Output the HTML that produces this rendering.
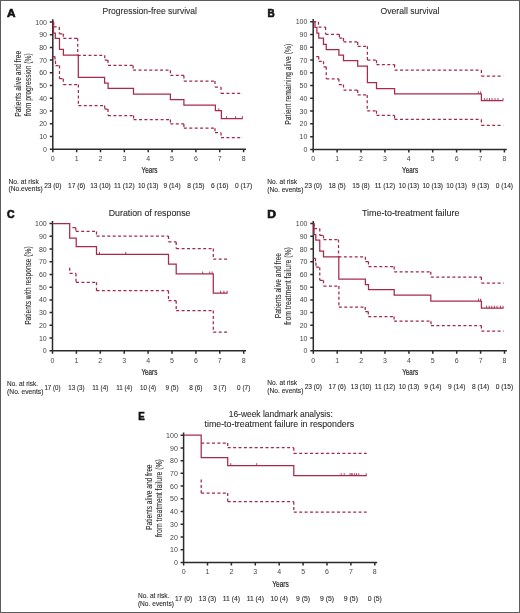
<!DOCTYPE html>
<html><head><meta charset="utf-8"><title>Kaplan-Meier figure</title>
<style>
html,body{margin:0;padding:0;background:#fff;}
body{width:520px;height:613px;overflow:hidden;}
svg{display:block;will-change:transform;}
text{font-family:"Liberation Sans",sans-serif;fill:#2b2b2b;stroke:#2b2b2b;stroke-width:0.1px;}
</style></head>
<body>
<svg width="520" height="613" viewBox="0 0 520 613">
<rect x="0" y="0" width="520" height="613" fill="#fff"/>
<text transform="translate(6.94,16.70) scale(1.041,1)" x="0" y="0" font-size="11.3" font-weight="bold" style="fill:#111;stroke:#111;stroke-width:0.65px">A</text>
<text transform="translate(267.44,16.60) scale(0.882,1)" x="0" y="0" font-size="11.3" font-weight="bold" style="fill:#111;stroke:#111;stroke-width:0.65px">B</text>
<text transform="translate(6.88,217.80) scale(0.926,1)" x="0" y="0" font-size="11.3" font-weight="bold" style="fill:#111;stroke:#111;stroke-width:0.65px">C</text>
<text transform="translate(267.36,217.80) scale(1.074,1)" x="0" y="0" font-size="11.3" font-weight="bold" style="fill:#111;stroke:#111;stroke-width:0.65px">D</text>
<text transform="translate(138.35,419.50) scale(0.860,1)" x="0" y="0" font-size="11.3" font-weight="bold" style="fill:#111;stroke:#111;stroke-width:0.65px">E</text>
<text x="102.50" y="14.40" font-size="9.8" textLength="94.50" lengthAdjust="spacingAndGlyphs">Progression-free survival</text>
<text x="380.60" y="14.30" font-size="9.8" textLength="58.80" lengthAdjust="spacingAndGlyphs">Overall survival</text>
<text x="108.70" y="215.60" font-size="9.8" textLength="81.80" lengthAdjust="spacingAndGlyphs">Duration of response</text>
<text x="361.90" y="215.80" font-size="9.8" textLength="97.60" lengthAdjust="spacingAndGlyphs">Time-to-treatment failure</text>
<text x="228.70" y="417.00" font-size="9.8" textLength="104.10" lengthAdjust="spacingAndGlyphs">16-week landmark analysis:</text>
<text x="204.50" y="426.60" font-size="9.8" textLength="149.60" lengthAdjust="spacingAndGlyphs">time-to-treatment failure in responders</text>
<text transform="translate(20.80,83.80) rotate(-90)" x="0" y="0" font-size="8.8" text-anchor="middle" textLength="66.00" lengthAdjust="spacingAndGlyphs">Patients alive and free</text>
<text transform="translate(31.20,84.60) rotate(-90)" x="0" y="0" font-size="8.8" text-anchor="middle" textLength="62.80" lengthAdjust="spacingAndGlyphs">from progression (%)</text>
<text transform="translate(291.40,84.30) rotate(-90)" x="0" y="0" font-size="8.8" text-anchor="middle" textLength="80.90" lengthAdjust="spacingAndGlyphs">Patient remaining alive (%)</text>
<text transform="translate(30.80,285.60) rotate(-90)" x="0" y="0" font-size="8.8" text-anchor="middle" textLength="78.40" lengthAdjust="spacingAndGlyphs">Patients with response (%)</text>
<text transform="translate(281.00,285.60) rotate(-90)" x="0" y="0" font-size="8.8" text-anchor="middle" textLength="65.20" lengthAdjust="spacingAndGlyphs">Patients alive and free</text>
<text transform="translate(291.10,286.00) rotate(-90)" x="0" y="0" font-size="8.8" text-anchor="middle" textLength="77.60" lengthAdjust="spacingAndGlyphs">from treatment failure (%)</text>
<text transform="translate(151.80,497.20) rotate(-90)" x="0" y="0" font-size="8.8" text-anchor="middle" textLength="65.40" lengthAdjust="spacingAndGlyphs">Patients alive and free</text>
<text transform="translate(162.00,498.10) rotate(-90)" x="0" y="0" font-size="8.8" text-anchor="middle" textLength="78.00" lengthAdjust="spacingAndGlyphs">from treatment failure (%)</text>
<path d="M52.80 19.30V149.30 M52.80 149.30H246.00 M49.80 149.30H52.80 M49.80 136.56H52.80 M49.80 123.82H52.80 M49.80 111.08H52.80 M49.80 98.34H52.80 M49.80 85.60H52.80 M49.80 72.86H52.80 M49.80 60.12H52.80 M49.80 47.38H52.80 M49.80 34.64H52.80 M49.80 21.90H52.80 M52.80 149.30V152.30 M76.65 149.30V152.30 M100.50 149.30V152.30 M124.35 149.30V152.30 M148.20 149.30V152.30 M172.05 149.30V152.30 M195.90 149.30V152.30 M219.75 149.30V152.30 M243.60 149.30V152.30" stroke="#2a2a2a" stroke-width="1.5" fill="none"/>
<text x="47.00" y="151.90" font-size="7.0" text-anchor="end" style="fill:#474747;stroke:#474747;stroke-width:0px">0</text>
<text x="47.00" y="139.16" font-size="7.0" text-anchor="end" style="fill:#474747;stroke:#474747;stroke-width:0px">10</text>
<text x="47.00" y="126.42" font-size="7.0" text-anchor="end" style="fill:#474747;stroke:#474747;stroke-width:0px">20</text>
<text x="47.00" y="113.68" font-size="7.0" text-anchor="end" style="fill:#474747;stroke:#474747;stroke-width:0px">30</text>
<text x="47.00" y="100.94" font-size="7.0" text-anchor="end" style="fill:#474747;stroke:#474747;stroke-width:0px">40</text>
<text x="47.00" y="88.20" font-size="7.0" text-anchor="end" style="fill:#474747;stroke:#474747;stroke-width:0px">50</text>
<text x="47.00" y="75.46" font-size="7.0" text-anchor="end" style="fill:#474747;stroke:#474747;stroke-width:0px">60</text>
<text x="47.00" y="62.72" font-size="7.0" text-anchor="end" style="fill:#474747;stroke:#474747;stroke-width:0px">70</text>
<text x="47.00" y="49.98" font-size="7.0" text-anchor="end" style="fill:#474747;stroke:#474747;stroke-width:0px">80</text>
<text x="47.00" y="37.24" font-size="7.0" text-anchor="end" style="fill:#474747;stroke:#474747;stroke-width:0px">90</text>
<text x="47.00" y="24.50" font-size="7.0" text-anchor="end" style="fill:#474747;stroke:#474747;stroke-width:0px">100</text>
<text x="52.80" y="161.30" font-size="7.0" text-anchor="middle" style="fill:#474747;stroke:#474747;stroke-width:0px">0</text>
<text x="76.65" y="161.30" font-size="7.0" text-anchor="middle" style="fill:#474747;stroke:#474747;stroke-width:0px">1</text>
<text x="100.50" y="161.30" font-size="7.0" text-anchor="middle" style="fill:#474747;stroke:#474747;stroke-width:0px">2</text>
<text x="124.35" y="161.30" font-size="7.0" text-anchor="middle" style="fill:#474747;stroke:#474747;stroke-width:0px">3</text>
<text x="148.20" y="161.30" font-size="7.0" text-anchor="middle" style="fill:#474747;stroke:#474747;stroke-width:0px">4</text>
<text x="172.05" y="161.30" font-size="7.0" text-anchor="middle" style="fill:#474747;stroke:#474747;stroke-width:0px">5</text>
<text x="195.90" y="161.30" font-size="7.0" text-anchor="middle" style="fill:#474747;stroke:#474747;stroke-width:0px">6</text>
<text x="219.75" y="161.30" font-size="7.0" text-anchor="middle" style="fill:#474747;stroke:#474747;stroke-width:0px">7</text>
<text x="243.60" y="161.30" font-size="7.0" text-anchor="middle" style="fill:#474747;stroke:#474747;stroke-width:0px">8</text>
<path d="M313.20 19.10V149.40 M313.20 149.40H506.80 M310.20 149.40H313.20 M310.20 136.63H313.20 M310.20 123.86H313.20 M310.20 111.09H313.20 M310.20 98.32H313.20 M310.20 85.55H313.20 M310.20 72.78H313.20 M310.20 60.01H313.20 M310.20 47.24H313.20 M310.20 34.47H313.20 M310.20 21.70H313.20 M313.20 149.40V152.40 M337.10 149.40V152.40 M361.00 149.40V152.40 M384.90 149.40V152.40 M408.80 149.40V152.40 M432.70 149.40V152.40 M456.60 149.40V152.40 M480.50 149.40V152.40 M504.40 149.40V152.40" stroke="#2a2a2a" stroke-width="1.5" fill="none"/>
<text x="307.40" y="152.00" font-size="7.0" text-anchor="end" style="fill:#474747;stroke:#474747;stroke-width:0px">0</text>
<text x="307.40" y="139.23" font-size="7.0" text-anchor="end" style="fill:#474747;stroke:#474747;stroke-width:0px">10</text>
<text x="307.40" y="126.46" font-size="7.0" text-anchor="end" style="fill:#474747;stroke:#474747;stroke-width:0px">20</text>
<text x="307.40" y="113.69" font-size="7.0" text-anchor="end" style="fill:#474747;stroke:#474747;stroke-width:0px">30</text>
<text x="307.40" y="100.92" font-size="7.0" text-anchor="end" style="fill:#474747;stroke:#474747;stroke-width:0px">40</text>
<text x="307.40" y="88.15" font-size="7.0" text-anchor="end" style="fill:#474747;stroke:#474747;stroke-width:0px">50</text>
<text x="307.40" y="75.38" font-size="7.0" text-anchor="end" style="fill:#474747;stroke:#474747;stroke-width:0px">60</text>
<text x="307.40" y="62.61" font-size="7.0" text-anchor="end" style="fill:#474747;stroke:#474747;stroke-width:0px">70</text>
<text x="307.40" y="49.84" font-size="7.0" text-anchor="end" style="fill:#474747;stroke:#474747;stroke-width:0px">80</text>
<text x="307.40" y="37.07" font-size="7.0" text-anchor="end" style="fill:#474747;stroke:#474747;stroke-width:0px">90</text>
<text x="307.40" y="24.30" font-size="7.0" text-anchor="end" style="fill:#474747;stroke:#474747;stroke-width:0px">100</text>
<text x="313.20" y="161.40" font-size="7.0" text-anchor="middle" style="fill:#474747;stroke:#474747;stroke-width:0px">0</text>
<text x="337.10" y="161.40" font-size="7.0" text-anchor="middle" style="fill:#474747;stroke:#474747;stroke-width:0px">1</text>
<text x="361.00" y="161.40" font-size="7.0" text-anchor="middle" style="fill:#474747;stroke:#474747;stroke-width:0px">2</text>
<text x="384.90" y="161.40" font-size="7.0" text-anchor="middle" style="fill:#474747;stroke:#474747;stroke-width:0px">3</text>
<text x="408.80" y="161.40" font-size="7.0" text-anchor="middle" style="fill:#474747;stroke:#474747;stroke-width:0px">4</text>
<text x="432.70" y="161.40" font-size="7.0" text-anchor="middle" style="fill:#474747;stroke:#474747;stroke-width:0px">5</text>
<text x="456.60" y="161.40" font-size="7.0" text-anchor="middle" style="fill:#474747;stroke:#474747;stroke-width:0px">6</text>
<text x="480.50" y="161.40" font-size="7.0" text-anchor="middle" style="fill:#474747;stroke:#474747;stroke-width:0px">7</text>
<text x="504.40" y="161.40" font-size="7.0" text-anchor="middle" style="fill:#474747;stroke:#474747;stroke-width:0px">8</text>
<path d="M52.50 220.90V350.80 M52.50 350.80H246.10 M49.50 350.80H52.50 M49.50 338.07H52.50 M49.50 325.34H52.50 M49.50 312.61H52.50 M49.50 299.88H52.50 M49.50 287.15H52.50 M49.50 274.42H52.50 M49.50 261.69H52.50 M49.50 248.96H52.50 M49.50 236.23H52.50 M49.50 223.50H52.50 M52.50 350.80V353.80 M76.40 350.80V353.80 M100.30 350.80V353.80 M124.20 350.80V353.80 M148.10 350.80V353.80 M172.00 350.80V353.80 M195.90 350.80V353.80 M219.80 350.80V353.80 M243.70 350.80V353.80" stroke="#2a2a2a" stroke-width="1.5" fill="none"/>
<text x="46.70" y="353.40" font-size="7.0" text-anchor="end" style="fill:#474747;stroke:#474747;stroke-width:0px">0</text>
<text x="46.70" y="340.67" font-size="7.0" text-anchor="end" style="fill:#474747;stroke:#474747;stroke-width:0px">10</text>
<text x="46.70" y="327.94" font-size="7.0" text-anchor="end" style="fill:#474747;stroke:#474747;stroke-width:0px">20</text>
<text x="46.70" y="315.21" font-size="7.0" text-anchor="end" style="fill:#474747;stroke:#474747;stroke-width:0px">30</text>
<text x="46.70" y="302.48" font-size="7.0" text-anchor="end" style="fill:#474747;stroke:#474747;stroke-width:0px">40</text>
<text x="46.70" y="289.75" font-size="7.0" text-anchor="end" style="fill:#474747;stroke:#474747;stroke-width:0px">50</text>
<text x="46.70" y="277.02" font-size="7.0" text-anchor="end" style="fill:#474747;stroke:#474747;stroke-width:0px">60</text>
<text x="46.70" y="264.29" font-size="7.0" text-anchor="end" style="fill:#474747;stroke:#474747;stroke-width:0px">70</text>
<text x="46.70" y="251.56" font-size="7.0" text-anchor="end" style="fill:#474747;stroke:#474747;stroke-width:0px">80</text>
<text x="46.70" y="238.83" font-size="7.0" text-anchor="end" style="fill:#474747;stroke:#474747;stroke-width:0px">90</text>
<text x="46.70" y="226.10" font-size="7.0" text-anchor="end" style="fill:#474747;stroke:#474747;stroke-width:0px">100</text>
<text x="52.50" y="362.80" font-size="7.0" text-anchor="middle" style="fill:#474747;stroke:#474747;stroke-width:0px">0</text>
<text x="76.40" y="362.80" font-size="7.0" text-anchor="middle" style="fill:#474747;stroke:#474747;stroke-width:0px">1</text>
<text x="100.30" y="362.80" font-size="7.0" text-anchor="middle" style="fill:#474747;stroke:#474747;stroke-width:0px">2</text>
<text x="124.20" y="362.80" font-size="7.0" text-anchor="middle" style="fill:#474747;stroke:#474747;stroke-width:0px">3</text>
<text x="148.10" y="362.80" font-size="7.0" text-anchor="middle" style="fill:#474747;stroke:#474747;stroke-width:0px">4</text>
<text x="172.00" y="362.80" font-size="7.0" text-anchor="middle" style="fill:#474747;stroke:#474747;stroke-width:0px">5</text>
<text x="195.90" y="362.80" font-size="7.0" text-anchor="middle" style="fill:#474747;stroke:#474747;stroke-width:0px">6</text>
<text x="219.80" y="362.80" font-size="7.0" text-anchor="middle" style="fill:#474747;stroke:#474747;stroke-width:0px">7</text>
<text x="243.70" y="362.80" font-size="7.0" text-anchor="middle" style="fill:#474747;stroke:#474747;stroke-width:0px">8</text>
<path d="M313.30 220.90V350.80 M313.30 350.80H506.90 M310.30 350.80H313.30 M310.30 338.07H313.30 M310.30 325.34H313.30 M310.30 312.61H313.30 M310.30 299.88H313.30 M310.30 287.15H313.30 M310.30 274.42H313.30 M310.30 261.69H313.30 M310.30 248.96H313.30 M310.30 236.23H313.30 M310.30 223.50H313.30 M313.30 350.80V353.80 M337.20 350.80V353.80 M361.10 350.80V353.80 M385.00 350.80V353.80 M408.90 350.80V353.80 M432.80 350.80V353.80 M456.70 350.80V353.80 M480.60 350.80V353.80 M504.50 350.80V353.80" stroke="#2a2a2a" stroke-width="1.5" fill="none"/>
<text x="307.50" y="353.40" font-size="7.0" text-anchor="end" style="fill:#474747;stroke:#474747;stroke-width:0px">0</text>
<text x="307.50" y="340.67" font-size="7.0" text-anchor="end" style="fill:#474747;stroke:#474747;stroke-width:0px">10</text>
<text x="307.50" y="327.94" font-size="7.0" text-anchor="end" style="fill:#474747;stroke:#474747;stroke-width:0px">20</text>
<text x="307.50" y="315.21" font-size="7.0" text-anchor="end" style="fill:#474747;stroke:#474747;stroke-width:0px">30</text>
<text x="307.50" y="302.48" font-size="7.0" text-anchor="end" style="fill:#474747;stroke:#474747;stroke-width:0px">40</text>
<text x="307.50" y="289.75" font-size="7.0" text-anchor="end" style="fill:#474747;stroke:#474747;stroke-width:0px">50</text>
<text x="307.50" y="277.02" font-size="7.0" text-anchor="end" style="fill:#474747;stroke:#474747;stroke-width:0px">60</text>
<text x="307.50" y="264.29" font-size="7.0" text-anchor="end" style="fill:#474747;stroke:#474747;stroke-width:0px">70</text>
<text x="307.50" y="251.56" font-size="7.0" text-anchor="end" style="fill:#474747;stroke:#474747;stroke-width:0px">80</text>
<text x="307.50" y="238.83" font-size="7.0" text-anchor="end" style="fill:#474747;stroke:#474747;stroke-width:0px">90</text>
<text x="307.50" y="226.10" font-size="7.0" text-anchor="end" style="fill:#474747;stroke:#474747;stroke-width:0px">100</text>
<text x="313.30" y="362.80" font-size="7.0" text-anchor="middle" style="fill:#474747;stroke:#474747;stroke-width:0px">0</text>
<text x="337.20" y="362.80" font-size="7.0" text-anchor="middle" style="fill:#474747;stroke:#474747;stroke-width:0px">1</text>
<text x="361.10" y="362.80" font-size="7.0" text-anchor="middle" style="fill:#474747;stroke:#474747;stroke-width:0px">2</text>
<text x="385.00" y="362.80" font-size="7.0" text-anchor="middle" style="fill:#474747;stroke:#474747;stroke-width:0px">3</text>
<text x="408.90" y="362.80" font-size="7.0" text-anchor="middle" style="fill:#474747;stroke:#474747;stroke-width:0px">4</text>
<text x="432.80" y="362.80" font-size="7.0" text-anchor="middle" style="fill:#474747;stroke:#474747;stroke-width:0px">5</text>
<text x="456.70" y="362.80" font-size="7.0" text-anchor="middle" style="fill:#474747;stroke:#474747;stroke-width:0px">6</text>
<text x="480.60" y="362.80" font-size="7.0" text-anchor="middle" style="fill:#474747;stroke:#474747;stroke-width:0px">7</text>
<text x="504.50" y="362.80" font-size="7.0" text-anchor="middle" style="fill:#474747;stroke:#474747;stroke-width:0px">8</text>
<path d="M183.60 432.60V562.40 M183.60 562.40H377.20 M180.60 562.40H183.60 M180.60 549.68H183.60 M180.60 536.96H183.60 M180.60 524.24H183.60 M180.60 511.52H183.60 M180.60 498.80H183.60 M180.60 486.08H183.60 M180.60 473.36H183.60 M180.60 460.64H183.60 M180.60 447.92H183.60 M180.60 435.20H183.60 M183.60 562.40V565.40 M207.50 562.40V565.40 M231.40 562.40V565.40 M255.30 562.40V565.40 M279.20 562.40V565.40 M303.10 562.40V565.40 M327.00 562.40V565.40 M350.90 562.40V565.40 M374.80 562.40V565.40" stroke="#2a2a2a" stroke-width="1.5" fill="none"/>
<text x="177.80" y="565.00" font-size="7.0" text-anchor="end" style="fill:#474747;stroke:#474747;stroke-width:0px">0</text>
<text x="177.80" y="552.28" font-size="7.0" text-anchor="end" style="fill:#474747;stroke:#474747;stroke-width:0px">10</text>
<text x="177.80" y="539.56" font-size="7.0" text-anchor="end" style="fill:#474747;stroke:#474747;stroke-width:0px">20</text>
<text x="177.80" y="526.84" font-size="7.0" text-anchor="end" style="fill:#474747;stroke:#474747;stroke-width:0px">30</text>
<text x="177.80" y="514.12" font-size="7.0" text-anchor="end" style="fill:#474747;stroke:#474747;stroke-width:0px">40</text>
<text x="177.80" y="501.40" font-size="7.0" text-anchor="end" style="fill:#474747;stroke:#474747;stroke-width:0px">50</text>
<text x="177.80" y="488.68" font-size="7.0" text-anchor="end" style="fill:#474747;stroke:#474747;stroke-width:0px">60</text>
<text x="177.80" y="475.96" font-size="7.0" text-anchor="end" style="fill:#474747;stroke:#474747;stroke-width:0px">70</text>
<text x="177.80" y="463.24" font-size="7.0" text-anchor="end" style="fill:#474747;stroke:#474747;stroke-width:0px">80</text>
<text x="177.80" y="450.52" font-size="7.0" text-anchor="end" style="fill:#474747;stroke:#474747;stroke-width:0px">90</text>
<text x="177.80" y="437.80" font-size="7.0" text-anchor="end" style="fill:#474747;stroke:#474747;stroke-width:0px">100</text>
<text x="183.60" y="574.40" font-size="7.0" text-anchor="middle" style="fill:#474747;stroke:#474747;stroke-width:0px">0</text>
<text x="207.50" y="574.40" font-size="7.0" text-anchor="middle" style="fill:#474747;stroke:#474747;stroke-width:0px">1</text>
<text x="231.40" y="574.40" font-size="7.0" text-anchor="middle" style="fill:#474747;stroke:#474747;stroke-width:0px">2</text>
<text x="255.30" y="574.40" font-size="7.0" text-anchor="middle" style="fill:#474747;stroke:#474747;stroke-width:0px">3</text>
<text x="279.20" y="574.40" font-size="7.0" text-anchor="middle" style="fill:#474747;stroke:#474747;stroke-width:0px">4</text>
<text x="303.10" y="574.40" font-size="7.0" text-anchor="middle" style="fill:#474747;stroke:#474747;stroke-width:0px">5</text>
<text x="327.00" y="574.40" font-size="7.0" text-anchor="middle" style="fill:#474747;stroke:#474747;stroke-width:0px">6</text>
<text x="350.90" y="574.40" font-size="7.0" text-anchor="middle" style="fill:#474747;stroke:#474747;stroke-width:0px">7</text>
<text x="374.80" y="574.40" font-size="7.0" text-anchor="middle" style="fill:#474747;stroke:#474747;stroke-width:0px">8</text>
<text x="149.50" y="172.60" font-size="8.6" text-anchor="middle" textLength="16.00" lengthAdjust="spacingAndGlyphs" style="fill:#2b2b2b;stroke:#2b2b2b;stroke-width:0.22px">Years</text>
<text x="410.10" y="172.90" font-size="8.6" text-anchor="middle" textLength="16.00" lengthAdjust="spacingAndGlyphs" style="fill:#2b2b2b;stroke:#2b2b2b;stroke-width:0.22px">Years</text>
<text x="149.40" y="375.20" font-size="8.6" text-anchor="middle" textLength="16.00" lengthAdjust="spacingAndGlyphs" style="fill:#2b2b2b;stroke:#2b2b2b;stroke-width:0.22px">Years</text>
<text x="410.20" y="375.00" font-size="8.6" text-anchor="middle" textLength="16.00" lengthAdjust="spacingAndGlyphs" style="fill:#2b2b2b;stroke:#2b2b2b;stroke-width:0.22px">Years</text>
<text x="280.50" y="586.70" font-size="8.6" text-anchor="middle" textLength="16.60" lengthAdjust="spacingAndGlyphs" style="fill:#2b2b2b;stroke:#2b2b2b;stroke-width:0.22px">Years</text>
<text x="8.50" y="183.80" font-size="7.0" textLength="30.30" lengthAdjust="spacingAndGlyphs">No. at risk</text>
<text x="8.50" y="191.30" font-size="7.0" textLength="34.30" lengthAdjust="spacingAndGlyphs">(No.events)</text>
<text x="52.80" y="187.80" font-size="7.3" text-anchor="middle" textLength="17.32" lengthAdjust="spacingAndGlyphs">23 (0)</text>
<text x="76.65" y="187.80" font-size="7.3" text-anchor="middle" textLength="17.32" lengthAdjust="spacingAndGlyphs">17 (6)</text>
<text x="100.50" y="187.80" font-size="7.3" text-anchor="middle" textLength="20.49" lengthAdjust="spacingAndGlyphs">13 (10)</text>
<text x="124.35" y="187.80" font-size="7.3" text-anchor="middle" textLength="20.49" lengthAdjust="spacingAndGlyphs">11 (12)</text>
<text x="148.20" y="187.80" font-size="7.3" text-anchor="middle" textLength="20.49" lengthAdjust="spacingAndGlyphs">10 (13)</text>
<text x="172.05" y="187.80" font-size="7.3" text-anchor="middle" textLength="17.32" lengthAdjust="spacingAndGlyphs">9 (14)</text>
<text x="195.90" y="187.80" font-size="7.3" text-anchor="middle" textLength="17.32" lengthAdjust="spacingAndGlyphs">8 (15)</text>
<text x="219.75" y="187.80" font-size="7.3" text-anchor="middle" textLength="17.32" lengthAdjust="spacingAndGlyphs">6 (16)</text>
<text x="243.60" y="187.80" font-size="7.3" text-anchor="middle" textLength="17.32" lengthAdjust="spacingAndGlyphs">0 (17)</text>
<text x="267.30" y="184.10" font-size="7.0" textLength="29.90" lengthAdjust="spacingAndGlyphs">No. at risk</text>
<text x="267.30" y="192.20" font-size="7.0" textLength="36.10" lengthAdjust="spacingAndGlyphs">(No. events)</text>
<text x="313.20" y="187.90" font-size="7.3" text-anchor="middle" textLength="17.32" lengthAdjust="spacingAndGlyphs">23 (0)</text>
<text x="337.10" y="187.90" font-size="7.3" text-anchor="middle" textLength="17.32" lengthAdjust="spacingAndGlyphs">18 (5)</text>
<text x="361.00" y="187.90" font-size="7.3" text-anchor="middle" textLength="17.32" lengthAdjust="spacingAndGlyphs">15 (8)</text>
<text x="384.90" y="187.90" font-size="7.3" text-anchor="middle" textLength="20.49" lengthAdjust="spacingAndGlyphs">11 (12)</text>
<text x="408.80" y="187.90" font-size="7.3" text-anchor="middle" textLength="20.49" lengthAdjust="spacingAndGlyphs">10 (13)</text>
<text x="432.70" y="187.90" font-size="7.3" text-anchor="middle" textLength="20.49" lengthAdjust="spacingAndGlyphs">10 (13)</text>
<text x="456.60" y="187.90" font-size="7.3" text-anchor="middle" textLength="20.49" lengthAdjust="spacingAndGlyphs">10 (13)</text>
<text x="480.50" y="187.90" font-size="7.3" text-anchor="middle" textLength="17.32" lengthAdjust="spacingAndGlyphs">9 (13)</text>
<text x="504.40" y="187.90" font-size="7.3" text-anchor="middle" textLength="17.32" lengthAdjust="spacingAndGlyphs">0 (14)</text>
<text x="7.10" y="385.90" font-size="7.0" textLength="30.90" lengthAdjust="spacingAndGlyphs">No. at risk.</text>
<text x="7.10" y="393.70" font-size="7.0" textLength="36.30" lengthAdjust="spacingAndGlyphs">(No. events)</text>
<text x="52.50" y="389.60" font-size="7.3" text-anchor="middle" textLength="16.11" lengthAdjust="spacingAndGlyphs">17 (0)</text>
<text x="76.40" y="389.60" font-size="7.3" text-anchor="middle" textLength="16.11" lengthAdjust="spacingAndGlyphs">13 (3)</text>
<text x="100.30" y="389.60" font-size="7.3" text-anchor="middle" textLength="16.11" lengthAdjust="spacingAndGlyphs">11 (4)</text>
<text x="124.20" y="389.60" font-size="7.3" text-anchor="middle" textLength="16.11" lengthAdjust="spacingAndGlyphs">11 (4)</text>
<text x="148.10" y="389.60" font-size="7.3" text-anchor="middle" textLength="16.11" lengthAdjust="spacingAndGlyphs">10 (4)</text>
<text x="172.00" y="389.60" font-size="7.3" text-anchor="middle" textLength="13.16" lengthAdjust="spacingAndGlyphs">9 (5)</text>
<text x="195.90" y="389.60" font-size="7.3" text-anchor="middle" textLength="13.16" lengthAdjust="spacingAndGlyphs">8 (6)</text>
<text x="219.80" y="389.60" font-size="7.3" text-anchor="middle" textLength="13.16" lengthAdjust="spacingAndGlyphs">3 (7)</text>
<text x="243.70" y="389.60" font-size="7.3" text-anchor="middle" textLength="13.16" lengthAdjust="spacingAndGlyphs">0 (7)</text>
<text x="267.30" y="384.90" font-size="7.0" textLength="29.90" lengthAdjust="spacingAndGlyphs">No. at risk</text>
<text x="267.30" y="392.90" font-size="7.0" textLength="36.10" lengthAdjust="spacingAndGlyphs">(No. events)</text>
<text x="313.30" y="388.80" font-size="7.3" text-anchor="middle" textLength="17.32" lengthAdjust="spacingAndGlyphs">23 (0)</text>
<text x="337.20" y="388.80" font-size="7.3" text-anchor="middle" textLength="17.32" lengthAdjust="spacingAndGlyphs">17 (6)</text>
<text x="361.10" y="388.80" font-size="7.3" text-anchor="middle" textLength="20.49" lengthAdjust="spacingAndGlyphs">13 (10)</text>
<text x="385.00" y="388.80" font-size="7.3" text-anchor="middle" textLength="20.49" lengthAdjust="spacingAndGlyphs">11 (12)</text>
<text x="408.90" y="388.80" font-size="7.3" text-anchor="middle" textLength="20.49" lengthAdjust="spacingAndGlyphs">10 (13)</text>
<text x="432.80" y="388.80" font-size="7.3" text-anchor="middle" textLength="17.32" lengthAdjust="spacingAndGlyphs">9 (14)</text>
<text x="456.70" y="388.80" font-size="7.3" text-anchor="middle" textLength="17.32" lengthAdjust="spacingAndGlyphs">9 (14)</text>
<text x="480.60" y="388.80" font-size="7.3" text-anchor="middle" textLength="17.32" lengthAdjust="spacingAndGlyphs">8 (14)</text>
<text x="504.50" y="388.80" font-size="7.3" text-anchor="middle" textLength="17.32" lengthAdjust="spacingAndGlyphs">0 (15)</text>
<text x="137.90" y="597.70" font-size="7.0" textLength="31.40" lengthAdjust="spacingAndGlyphs">No. at risk.</text>
<text x="137.90" y="606.00" font-size="7.0" textLength="36.00" lengthAdjust="spacingAndGlyphs">(No. events)</text>
<text x="183.60" y="600.90" font-size="7.3" text-anchor="middle" textLength="17.32" lengthAdjust="spacingAndGlyphs">17 (0)</text>
<text x="207.50" y="600.90" font-size="7.3" text-anchor="middle" textLength="17.32" lengthAdjust="spacingAndGlyphs">13 (3)</text>
<text x="231.40" y="600.90" font-size="7.3" text-anchor="middle" textLength="17.32" lengthAdjust="spacingAndGlyphs">11 (4)</text>
<text x="255.30" y="600.90" font-size="7.3" text-anchor="middle" textLength="17.32" lengthAdjust="spacingAndGlyphs">11 (4)</text>
<text x="279.20" y="600.90" font-size="7.3" text-anchor="middle" textLength="17.32" lengthAdjust="spacingAndGlyphs">10 (4)</text>
<text x="303.10" y="600.90" font-size="7.3" text-anchor="middle" textLength="14.15" lengthAdjust="spacingAndGlyphs">9 (5)</text>
<text x="327.00" y="600.90" font-size="7.3" text-anchor="middle" textLength="14.15" lengthAdjust="spacingAndGlyphs">9 (5)</text>
<text x="350.90" y="600.90" font-size="7.3" text-anchor="middle" textLength="14.15" lengthAdjust="spacingAndGlyphs">9 (5)</text>
<text x="374.80" y="600.90" font-size="7.3" text-anchor="middle" textLength="14.15" lengthAdjust="spacingAndGlyphs">0 (5)</text>
<path d="M52.80 21.90H53.50V33.00H55.30V38.30H59.50V49.30H63.40V55.20H78.30V77.30H104.60V83.10H108.10V88.40H133.50V94.00H170.40V99.60H183.90V105.20H215.40V110.70H221.40V118.50H242.70" stroke="#a82a4a" stroke-width="1.25" fill="none"/>
<path d="M53.60 21.90H53.60M53.60 21.90V26.90M53.60 26.90H59.30M59.30 26.90V33.80M59.30 33.80H63.30M63.30 33.80V38.30M63.30 38.30H77.70M77.70 38.30V55.30M77.70 55.30H104.75M104.75 55.30V60.00M104.75 60.00H108.00M108.00 60.00V65.40M108.00 65.40H133.10M133.10 65.40V70.20M133.10 70.20H170.40M170.40 70.20V75.40M170.40 75.40H183.90M183.90 75.40V81.00M183.90 81.00H215.00M215.00 81.00V87.00M215.00 87.00H221.00M221.00 87.00V93.40M221.00 93.40H242.70" stroke="#a02a48" stroke-width="1.25" fill="none" stroke-dasharray="3 2.4"/>
<path d="M52.80 56.50H55.00M55.00 56.50V61.00M55.00 61.00H55.50M55.50 61.00V65.50M55.50 65.50H59.50M59.50 65.50V78.70M59.50 78.70H63.30M63.30 78.70V84.60M63.30 84.60H78.40M78.40 84.60V105.60M78.40 105.60H104.70M104.70 105.60V109.10M104.70 109.10H108.00M108.00 109.10V115.50M108.00 115.50H133.60M133.60 115.50V119.60M133.60 119.60H170.40M170.40 119.60V123.90M170.40 123.90H183.90M183.90 123.90V128.20M183.90 128.20H215.00M215.00 128.20V132.50M215.00 132.50H221.00M221.00 132.50V137.70M221.00 137.70H242.70" stroke="#a02a48" stroke-width="1.25" fill="none" stroke-dasharray="3 2.4"/>
<path d="M218.80 110.70V108.30" stroke="#a82a4a" stroke-width="0.9" fill="none"/>
<path d="M226.60 118.50V116.10 M235.60 118.50V116.10 M242.40 118.50V116.10" stroke="#a82a4a" stroke-width="0.9" fill="none"/>
<path d="M313.20 21.70H315.00V27.40H316.90V33.00H318.75V38.00H323.50V44.25H326.25V49.50H338.90V55.10H343.50V60.60H357.70V66.10H367.40V82.60H376.50V88.50H394.60V93.80H481.40V100.50H503.20" stroke="#a82a4a" stroke-width="1.25" fill="none"/>
<path d="M313.20 21.70H318.50M318.50 21.70V27.00M318.50 27.00H325.60M325.60 27.00V34.25M325.60 34.25H339.40M339.40 34.25V38.00M339.40 38.00H343.50M343.50 38.00V41.90M343.50 41.90H357.70M357.70 41.90V46.30M357.70 46.30H367.40M367.40 46.30V60.20M367.40 60.20H376.50M376.50 60.20V64.60M376.50 64.60H394.60M394.60 64.60V70.10M394.60 70.10H481.40M481.40 70.10V76.20M481.40 76.20H503.20" stroke="#a02a48" stroke-width="1.25" fill="none" stroke-dasharray="3 2.4"/>
<path d="M316.20 56.50H318.75M318.75 56.50V61.30M318.75 61.30H323.50M323.50 61.30V66.75M323.50 66.75H326.25M326.25 66.75V78.80M326.25 78.80H338.90M338.90 78.80V84.60M338.90 84.60H343.50M343.50 84.60V90.00M343.50 90.00H357.70M357.70 90.00V94.90M357.70 94.90H367.20M367.20 94.90V110.80M367.20 110.80H376.50M376.50 110.80V115.40M376.50 115.40H394.60M394.60 115.40V119.40M394.60 119.40H481.40M481.40 119.40V125.40M481.40 125.40H503.20" stroke="#a02a48" stroke-width="1.25" fill="none" stroke-dasharray="3 2.4"/>
<path d="M478.30 93.80V91.40 M480.40 93.80V91.40" stroke="#a82a4a" stroke-width="0.9" fill="none"/>
<path d="M484.60 100.50V98.10 M487.00 100.50V98.10 M489.50 100.50V98.10 M492.00 100.50V98.10 M495.00 100.50V98.10 M498.00 100.50V98.10 M503.00 100.50V98.10" stroke="#a82a4a" stroke-width="0.9" fill="none"/>
<path d="M52.50 223.50H69.70V238.00H76.20V246.50H96.50V254.30H168.50V264.20H176.20V273.90H213.30V293.10H227.50" stroke="#a82a4a" stroke-width="1.25" fill="none"/>
<path d="M72.50 227.50H75.80M75.80 227.50V231.40M75.80 231.40H96.50M96.50 231.40V236.10M96.50 236.10H168.50M168.50 236.10V241.90M168.50 241.90H176.20M176.20 241.90V248.60M176.20 248.60H213.30M213.30 248.60V259.10M213.30 259.10H227.50" stroke="#a02a48" stroke-width="1.25" fill="none" stroke-dasharray="3 2.4"/>
<path d="M69.70 267.80H69.70M69.70 267.80V273.40M69.70 273.40H76.00M76.00 273.40V282.30M76.00 282.30H96.50M96.50 282.30V290.70M96.50 290.70H168.50M168.50 290.70V300.70M168.50 300.70H176.20M176.20 300.70V310.50M176.20 310.50H213.30M213.30 310.50V332.20M213.30 332.20H227.50" stroke="#a02a48" stroke-width="1.25" fill="none" stroke-dasharray="3 2.4"/>
<path d="M99.50 254.30V251.90 M125.80 254.30V251.90" stroke="#a82a4a" stroke-width="0.9" fill="none"/>
<path d="M202.70 273.90V271.50 M209.70 273.90V271.50 M212.10 273.90V271.50" stroke="#a82a4a" stroke-width="0.9" fill="none"/>
<path d="M220.60 293.10V290.70 M223.90 293.10V290.70 M227.10 293.10V290.70" stroke="#a82a4a" stroke-width="0.9" fill="none"/>
<path d="M313.30 223.50H314.00V234.60H315.80V240.20H319.75V251.10H323.50V256.75H338.80V279.00H365.40V284.60H368.50V289.70H394.20V295.20H430.80V301.10H481.40V308.10H503.60" stroke="#a82a4a" stroke-width="1.25" fill="none"/>
<path d="M314.10 223.50H314.10M314.10 223.50V228.60M314.10 228.60H319.80M319.80 228.60V235.40M319.80 235.40H323.50M323.50 235.40V239.60M323.50 239.60H338.50M338.50 239.60V256.75M338.50 256.75H365.40M365.40 256.75V261.50M365.40 261.50H368.50M368.50 261.50V266.50M368.50 266.50H394.20M394.20 266.50V271.80M394.20 271.80H430.80M430.80 271.80V277.00M430.80 277.00H481.40M481.40 277.00V283.00M481.40 283.00H503.60" stroke="#a02a48" stroke-width="1.25" fill="none" stroke-dasharray="3 2.4"/>
<path d="M313.30 258.30H315.50M315.50 258.30V262.80M315.50 262.80H316.00M316.00 262.80V267.20M316.00 267.20H319.75M319.75 267.20V280.30M319.75 280.30H323.50M323.50 280.30V286.00M323.50 286.00H338.90M338.90 286.00V307.10M338.90 307.10H365.20M365.20 307.10V311.60M365.20 311.60H368.30M368.30 311.60V316.60M368.30 316.60H394.10M394.10 316.60V321.20M394.10 321.20H431.00M431.00 321.20V325.60M431.00 325.60H481.40M481.40 325.60V331.00M481.40 331.00H503.60" stroke="#a02a48" stroke-width="1.25" fill="none" stroke-dasharray="3 2.4"/>
<path d="M478.50 301.10V298.70 M480.60 301.10V298.70" stroke="#a82a4a" stroke-width="0.9" fill="none"/>
<path d="M486.60 308.10V305.70 M489.20 308.10V305.70 M491.80 308.10V305.70 M494.40 308.10V305.70 M497.00 308.10V305.70 M500.50 308.10V305.70 M503.00 308.10V305.70" stroke="#a82a4a" stroke-width="0.9" fill="none"/>
<path d="M183.60 435.20H201.20V457.70H227.70V465.60H293.80V475.60H366.70" stroke="#a82a4a" stroke-width="1.25" fill="none"/>
<path d="M201.20 443.10H227.70M227.70 443.10V447.70M227.70 447.70H293.80M293.80 447.70V453.40M293.80 453.40H366.70" stroke="#a02a48" stroke-width="1.25" fill="none" stroke-dasharray="3 2.4"/>
<path d="M201.20 479.50H201.20M201.20 479.50V493.10M201.20 493.10H227.70M227.70 493.10V501.70M227.70 501.70H293.80M293.80 501.70V512.20M293.80 512.20H366.70" stroke="#a02a48" stroke-width="1.25" fill="none" stroke-dasharray="3 2.4"/>
<path d="M230.80 465.60V463.20 M256.70 465.60V463.20" stroke="#a82a4a" stroke-width="0.9" fill="none"/>
<path d="M341.20 475.60V473.20 M344.20 475.60V473.20 M350.00 475.60V473.20 M351.20 475.60V473.20 M352.30 475.60V473.20 M354.60 475.60V473.20 M356.50 475.60V473.20 M358.80 475.60V473.20 M366.20 475.60V473.20" stroke="#a82a4a" stroke-width="0.9" fill="none"/>
<rect x="0.5" y="0.5" width="519" height="612" fill="none" stroke="#5c5c5c" stroke-width="1"/>
</svg>
</body></html>
